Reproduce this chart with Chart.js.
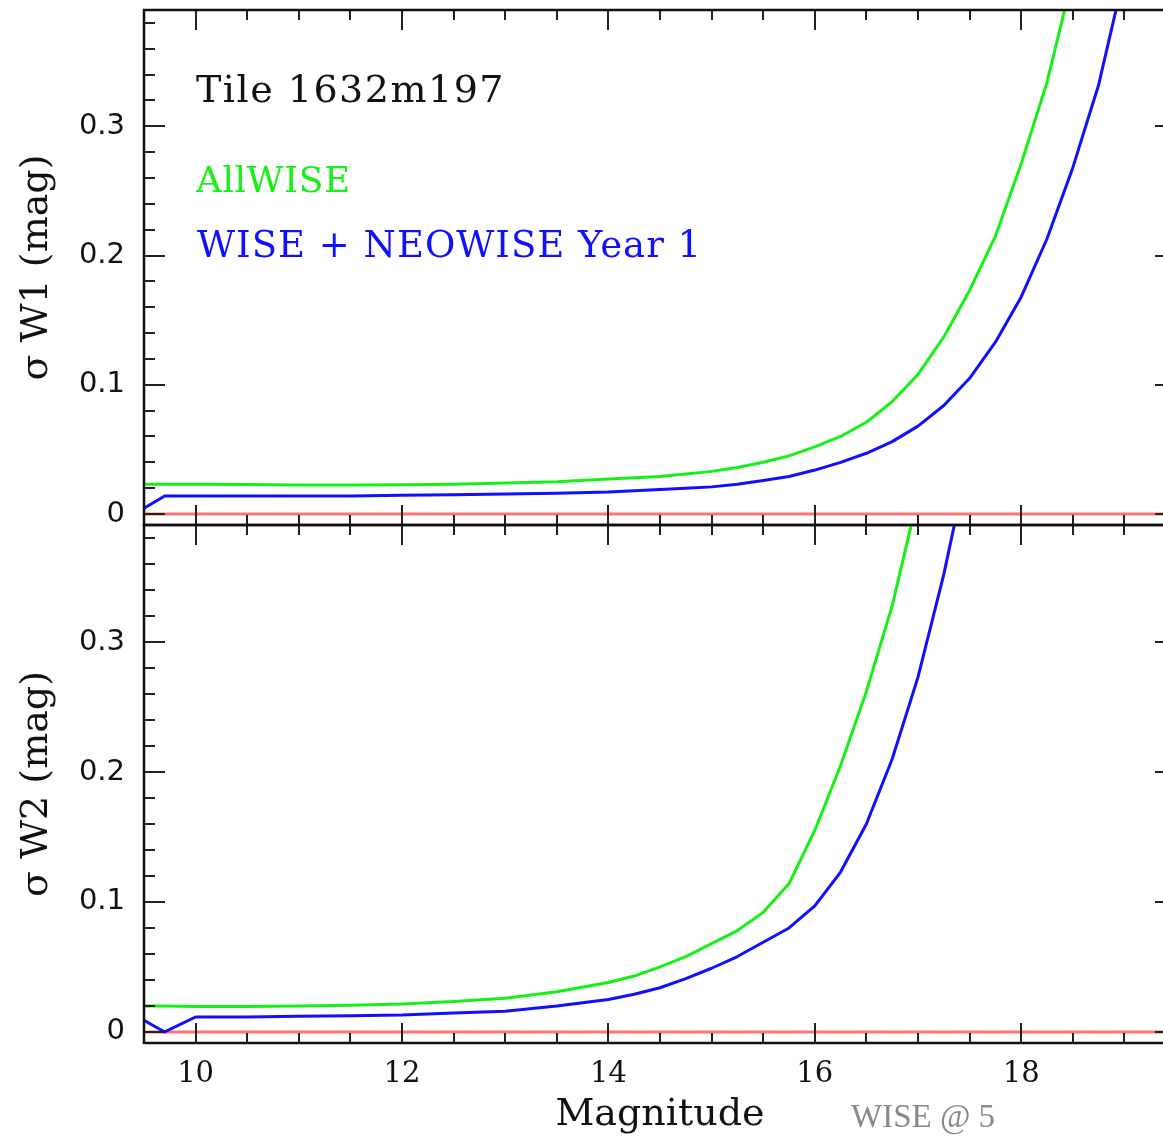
<!DOCTYPE html>
<html>
<head>
<meta charset="utf-8">
<script src="https://cdn.jsdelivr.net/npm/chart.js@4/dist/chart.umd.min.js"></script>
<style>
  html, body { margin: 0; padding: 0; background: #fff; overflow: hidden; }
  #wrap { position: relative; width: 1190px; height: 1139px; }
  #wrap canvas { position: absolute; left: 0; top: 0; }
</style>
</head>
<body>
<div id="wrap">
  <canvas id="chartW1" width="1190" height="1139"></canvas>
  <canvas id="chartW2" width="1190" height="1139"></canvas>
</div>
<script>
// Magnitude grid shared by all curves
const magnitudes = [9.5, 9.7, 10, 10.5, 11, 11.5, 12, 12.5, 13, 13.5, 14, 14.25, 14.5, 14.75,
  15, 15.25, 15.5, 15.75, 16, 16.25, 16.5, 16.75, 17, 17.25, 17.5, 17.75, 18, 18.25, 18.5, 18.75, 19];

// sigma W1 (mag)
const w1AllWise = [0.023, 0.023, 0.023, 0.0228, 0.0225, 0.0225, 0.0227, 0.023, 0.024, 0.025, 0.027, 0.028, 0.029, 0.031,
  0.033, 0.036, 0.040, 0.045, 0.052, 0.060, 0.071, 0.087, 0.108, 0.137, 0.173, 0.215, 0.271, 0.334, 0.416, null, null];
const w1NeoWise = [0.0045, 0.014, 0.014, 0.014, 0.014, 0.014, 0.0145, 0.015, 0.0155, 0.016, 0.017, 0.018, 0.019, 0.020,
  0.021, 0.023, 0.026, 0.029, 0.034, 0.040, 0.047, 0.056, 0.068, 0.084, 0.105, 0.133, 0.168, 0.213, 0.268, 0.332, 0.418];

// sigma W2 (mag)
const w2AllWise = [0.020, 0.020, 0.0195, 0.0195, 0.020, 0.0205, 0.0215, 0.0235, 0.026, 0.031, 0.038, 0.043, 0.050, 0.058,
  0.068, 0.078, 0.092, 0.114, 0.155, 0.205, 0.262, 0.328, 0.412, null, null, null, null, null, null, null, null];
const w2NeoWise = [0.009, 0.000, 0.0115, 0.0115, 0.012, 0.0125, 0.013, 0.0145, 0.016, 0.020, 0.025, 0.029, 0.034, 0.041,
  0.049, 0.058, 0.069, 0.080, 0.097, 0.123, 0.160, 0.210, 0.273, 0.352, 0.445, null, null, null, null, null, null];

// zero reference line
const zeroLineX = [9.5, 19.5];
const zeroLineY = [0, 0];

const xMin = 9.5, xMax = 19.5;
const yMin = -0.0085, yMax = 0.39;

const GREEN = '#16f016';
const BLUE = '#1010ff';
const RED = 'rgba(255, 90, 90, 0.85)';

const toPoints = (xs, ys) => xs.map((x, i) => ({ x: x, y: ys[i] }));

const isMajorY = v => Math.abs(v * 10 - Math.round(v * 10)) < 1e-6;
const isMinorY = v => Math.abs(v * 50 - Math.round(v * 50)) < 1e-6;
const isMajorX = v => Math.abs(v / 2 - Math.round(v / 2)) < 1e-6;

// frame + inward ticks on all four sides, like the original plot
const frameTicks = {
  id: 'frameTicks',
  afterDatasetsDraw(chart) {
    const { ctx, chartArea: a, scales: { x, y } } = chart;
    ctx.save();
    ctx.strokeStyle = '#222';
    ctx.lineWidth = 2;
    ctx.beginPath();
    x.ticks.forEach(t => {
      if (t.value <= xMin || t.value >= xMax) return;
      const px = Math.round(x.getPixelForValue(t.value));
      const len = isMajorX(t.value) ? 20 : 10;
      ctx.moveTo(px, a.top); ctx.lineTo(px, a.top + len);
      ctx.moveTo(px, a.bottom); ctx.lineTo(px, a.bottom - len);
    });
    y.ticks.forEach(t => {
      if (!isMinorY(t.value) || t.value >= yMax) return;
      const py = Math.round(y.getPixelForValue(t.value));
      const len = isMajorY(t.value) ? 21 : 11;
      ctx.moveTo(a.left, py); ctx.lineTo(a.left + len, py);
      ctx.moveTo(a.right, py); ctx.lineTo(a.right - len, py);
    });
    ctx.stroke();
    ctx.strokeStyle = '#111';
    ctx.lineWidth = 2.5;
    ctx.strokeRect(a.left, a.top, a.width, a.height);
    ctx.restore();
  }
};

// text written inside the plots
const notes = {
  id: 'notes',
  afterDraw(chart, args, opts) {
    const ctx = chart.ctx;
    ctx.save();
    ctx.textBaseline = 'alphabetic';
    ctx.textAlign = 'left';
    (opts.items || []).forEach(it => {
      ctx.font = it.font;
      ctx.fillStyle = it.color;
      ctx.letterSpacing = it.spacing || '0px';
      ctx.fillText(it.text, it.x, it.y);
    });
    ctx.restore();
  }
};

function yTickLabel(v) {
  if (!isMajorY(v)) return '';
  return String(Math.round(v * 10) / 10);
}

function xTickLabel(v) {
  if (v <= xMin || v >= xMax) return '';
  return isMajorX(v) ? String(v) : '';
}

function makePanel(canvasId, greenVals, blueVals, yTitle, padTop, padBottom, showX, noteItems) {
  const ctx = document.getElementById(canvasId).getContext('2d');
  return new Chart(ctx, {
    type: 'line',
    data: {
      datasets: [
        { label: 'AllWISE', data: toPoints(magnitudes, greenVals), borderColor: GREEN, borderWidth: 3, order: 2 },
        { label: 'WISE + NEOWISE Year 1', data: toPoints(magnitudes, blueVals), borderColor: BLUE, borderWidth: 3, order: 1 },
        { label: 'zero', data: toPoints(zeroLineX, zeroLineY), borderColor: RED, borderWidth: 3, order: 3 }
      ]
    },
    options: {
      responsive: false,
      animation: false,
      layout: { padding: { left: 0, right: 14, top: padTop, bottom: padBottom } },
      elements: { point: { radius: 0 }, line: { tension: 0, borderJoinStyle: 'round', fill: false } },
      plugins: {
        legend: { display: false },
        tooltip: { enabled: false },
        notes: { items: noteItems }
      },
      scales: {
        x: {
          type: 'linear',
          min: xMin,
          max: xMax,
          display: showX,
          grid: { display: false, drawTicks: false },
          border: { display: false },
          ticks: {
            stepSize: 0.5,
            autoSkip: false,
            maxRotation: 0,
            padding: 14,
            color: '#111',
            font: { family: 'DejaVu Serif', size: 29 },
            callback: xTickLabel
          },
          title: {
            display: showX,
            text: 'Magnitude',
            color: '#111',
            font: { family: 'DejaVu Serif', size: 38 },
            padding: { top: 0, bottom: 1 }
          },
          afterFit: s => { s.height = showX ? 96 : 0; s.paddingLeft = 0; s.paddingRight = 0; }
        },
        y: {
          min: yMin,
          max: yMax,
          grid: { display: false, drawTicks: false },
          border: { display: false },
          ticks: {
            stepSize: 0.02,
            includeBounds: false,
            autoSkip: false,
            padding: 19,
            color: '#111',
            font: { family: 'DejaVu Sans', size: 29 },
            callback: yTickLabel
          },
          title: {
            display: true,
            text: yTitle,
            color: '#111',
            font: { family: 'DejaVu Serif', size: 38 },
            padding: { top: 14, bottom: 0 }
          },
          afterFit: s => { s.width = 144; s.paddingTop = 0; s.paddingBottom = 0; }
        }
      }
    },
    plugins: [frameTicks, notes]
  });
}

makePanel('chartW1', w1AllWise, w1NeoWise, 'σ W1 (mag)', 10, 614, false, [
  { text: 'Tile 1632m197', x: 196, y: 102, font: '38px "DejaVu Serif"', color: '#111', spacing: '1.5px' },
  { text: 'AllWISE', x: 196, y: 192, font: '36px "DejaVu Serif"', color: GREEN, spacing: '0.5px' },
  { text: 'WISE + NEOWISE Year 1', x: 197, y: 257, font: '37px "DejaVu Serif"', color: BLUE, spacing: '1px' }
]);

makePanel('chartW2', w2AllWise, w2NeoWise, 'σ W2 (mag)', 525, 0, true, [
  { text: 'WISE @ 5', x: 851, y: 1127, font: '33px "Liberation Serif"', color: '#888' }
]);
</script>
</body>
</html>
